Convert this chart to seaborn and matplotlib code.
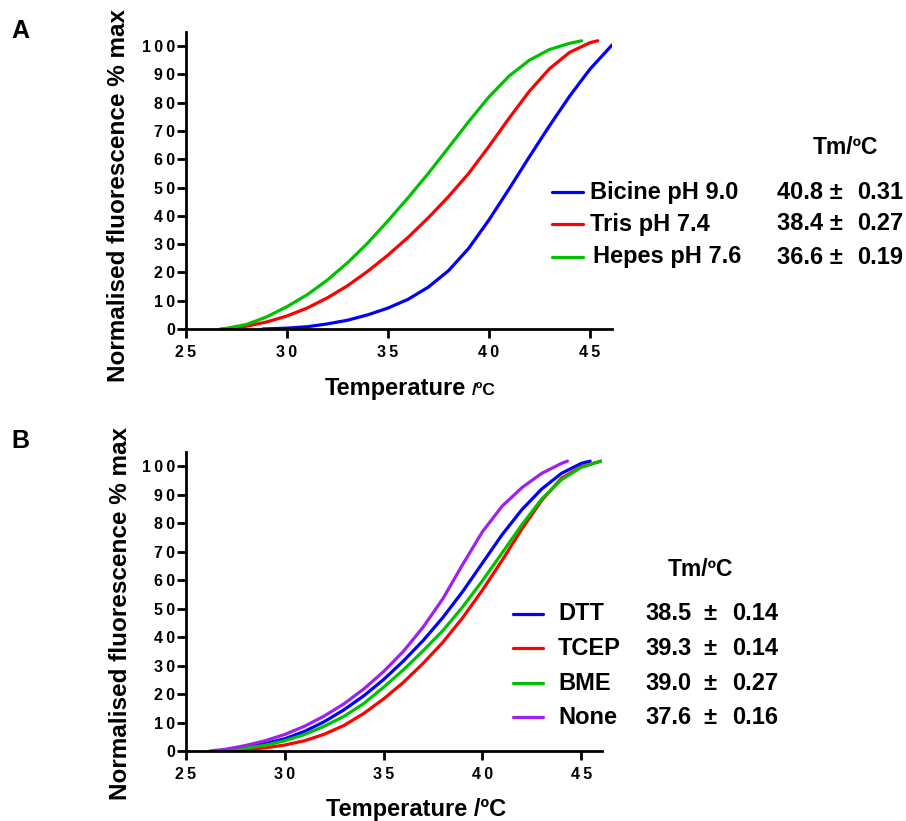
import pandas as pd
import seaborn as sns
import matplotlib.pyplot as plt
import numpy as np

# curves (temperature in C, fluorescence % max)
a_names = ["Bicine pH 9.0", "Tris pH 7.4", "Hepes pH 7.6"]
a_tm = ["40.8", "38.4", "36.6"]
a_err = ["0.31", "0.27", "0.19"]
a_colors = ["#0000FF", "#FF0000", "#00C000"]

bicine_t = [28.8, 30, 31, 32, 33, 34, 35, 36, 37, 38, 39, 40, 41, 42, 43, 44, 45, 46, 46.1]
bicine_y = [0, 0.3, 0.8, 1.8, 3.1, 5.0, 7.4, 10.5, 14.8, 20.6, 28.5, 38.5, 49.5, 60.8,
            71.8, 82.3, 91.8, 99.6, 100.4]
tris_t = [26.8, 28, 29, 30, 31, 32, 33, 34, 35, 36, 37, 38, 39, 40, 41, 42, 43, 44, 45, 45.4]
tris_y = [0, 1.0, 2.5, 4.6, 7.4, 11.0, 15.3, 20.4, 26.1, 32.4, 39.3, 46.8, 55.0, 64.5,
          74.5, 84.0, 92.0, 97.8, 101.2, 101.9]
hepes_t = [26.7, 27, 28, 29, 30, 31, 32, 33, 34, 35, 36, 37, 38, 39, 40, 41, 42, 43, 44, 44.6]
hepes_y = [0, 0.2, 1.6, 4.3, 7.9, 12.1, 17.3, 23.4, 30.4, 38.2, 46.4, 55.0, 64.1, 73.3,
           82.0, 89.4, 95.0, 98.8, 101.0, 101.9]

b_names = ["DTT", "TCEP", "BME", "None"]
b_tm = ["38.5", "39.3", "39.0", "37.6"]
b_err = ["0.14", "0.14", "0.27", "0.16"]
b_colors = ["#0000FF", "#FF0000", "#00C000", "#A020F0"]

dtt_t = [26.5, 27, 28, 29, 30, 31, 32, 33, 34, 35, 36, 37, 38, 39, 40, 41, 42, 43, 44, 45, 45.45]
dtt_y = [0, 0.4, 1.4, 2.6, 4.3, 6.9, 10.3, 14.5, 19.4, 25.1, 31.6, 38.8, 46.9, 56.0,
         66.0, 76.0, 84.8, 92.0, 97.5, 101.0, 101.8]
tcep_t = [26.8, 27, 28, 29, 30, 31, 32, 33, 34, 35, 36, 37, 38, 39, 40, 41, 42, 43, 44, 45, 46]
tcep_y = [0, 0.1, 0.5, 1.1, 2.1, 3.6, 5.9, 9.0, 13.2, 18.3, 24.1, 30.8, 38.2, 46.8,
          56.5, 67.0, 78.0, 88.0, 95.8, 99.8, 101.8]
bme_t = [26.6, 27, 28, 29, 30, 31, 32, 33, 34, 35, 36, 37, 38, 39, 40, 41, 42, 43, 44, 45, 46]
bme_y = [0, 0.2, 1.0, 2.0, 3.6, 5.8, 8.7, 12.2, 16.7, 22.4, 28.5, 35.2, 42.3, 50.6,
         59.8, 69.6, 79.5, 88.5, 95.3, 99.6, 101.8]
none_t = [26.2, 27, 28, 29, 30, 31, 32, 33, 34, 35, 36, 37, 38, 39, 40, 41, 42, 43, 44, 44.3]
none_y = [0, 0.6, 1.9, 3.6, 5.8, 8.7, 12.3, 16.6, 21.8, 27.9, 35.0, 43.5, 53.5, 65.5,
          77.0, 86.0, 92.5, 97.5, 101.0, 101.8]


def long_df(names, ts, ys):
    parts = []
    for n, t, y in zip(names, ts, ys):
        parts.append(pd.DataFrame({"temp": t, "fluor": y, "buffer": n}))
    return pd.concat(parts, ignore_index=True)


df_a = long_df(a_names, [bicine_t, tris_t, hepes_t], [bicine_y, tris_y, hepes_y])
df_b = long_df(b_names, [dtt_t, tcep_t, bme_t, none_t], [dtt_y, tcep_y, bme_y, none_y])

sns.set_style("ticks")
plt.rcParams['font.family'] = ['Liberation Sans', 'DejaVu Sans']
plt.rcParams['font.weight'] = 'bold'
plt.rcParams['text.color'] = 'black'
plt.rcParams['axes.labelcolor'] = 'black'

W, H = 906, 821
fig = plt.figure(figsize=(W / 100, H / 100), dpi=100)


def fx(px):
    return px / W


def fy(py):
    return 1 - py / H


ax_a = fig.add_axes([fx(186), fy(329), fx(612 - 186), (329 - 32) / H])
ax_b = fig.add_axes([fx(186), fy(751), fx(602 - 186), (751 - 452) / H])


def spaced(v):
    return "\u2009".join(str(v))


def style_axis(ax, xmax):
    ax.set_xlim(25, xmax)
    ax.set_ylim(0, 105)
    ax.set_xticks([25, 30, 35, 40, 45])
    ax.set_xticklabels([spaced(v) for v in [25, 30, 35, 40, 45]])
    ax.set_yticks(range(0, 101, 10))
    ax.set_yticklabels([spaced(v) for v in range(0, 101, 10)])
    for s in ["top", "right"]:
        ax.spines[s].set_visible(False)
    for s in ["left", "bottom"]:
        ax.spines[s].set_linewidth(2)
        ax.spines[s].set_color("black")
    ax.tick_params(axis="both", direction="out", length=6.5, width=2,
                   labelsize=11.5, colors="black")
    ax.tick_params(axis="x", pad=5)
    ax.tick_params(axis="y", pad=1.5)
    for lab in ax.get_xticklabels() + ax.get_yticklabels():
        lab.set_fontweight("bold")
    ax.set_xlabel("")
    ax.set_ylabel("")


sns.lineplot(data=df_a, x="temp", y="fluor", hue="buffer", palette=a_colors,
             hue_order=a_names, linewidth=2.3, ax=ax_a, legend=False, sort=False)
sns.lineplot(data=df_b, x="temp", y="fluor", hue="buffer", palette=b_colors,
             hue_order=b_names, linewidth=2.3, ax=ax_b, legend=False, sort=False)

style_axis(ax_a, 46.1)
style_axis(ax_b, 46.05)

ylab = "Normalised fluorescence % max"
fig.text(fx(119), fy(196), ylab, fontsize=17.5, fontweight="bold",
         rotation=90, ha="center", va="center")
fig.text(fx(121), fy(614), ylab, fontsize=17.5, fontweight="bold",
         rotation=90, ha="center", va="center")

fig.text(fx(325), fy(395), "Temperature", fontsize=17, fontweight="bold",
         ha="left", va="baseline")
fig.text(fx(472), fy(395), "/ºC", fontsize=12.5, fontweight="bold",
         ha="left", va="baseline")
fig.text(fx(416), fy(809), "Temperature /ºC", fontsize=17, fontweight="bold",
         ha="center", va="center")

fig.text(fx(11), fy(31), "A", fontsize=18, fontweight="bold", va="center")
fig.text(fx(11), fy(441), "B", fontsize=18, fontweight="bold", va="center")

# legend panel A
fig.text(fx(845), fy(148), "Tm/ºC", fontsize=16.5, fontweight="bold",
         ha="center", va="center")
rows_a = [192, 224, 257]
for i, name in enumerate(a_names):
    y = fy(rows_a[i])
    fig.add_artist(plt.Line2D([fx(552), fx(583)], [y, y], color=a_colors[i],
                              linewidth=2.3))
    fig.text(fx(590 if i < 2 else 593), y, name, fontsize=17, fontweight="bold",
             va="center")
    fig.text(fx(777), y, a_tm[i] + " \u00b1", fontsize=17, fontweight="bold",
             va="center")
    fig.text(fx(857), y, a_err[i], fontsize=17, fontweight="bold", va="center")

# legend panel B
fig.text(fx(700), fy(570), "Tm/ºC", fontsize=16.5, fontweight="bold",
         ha="center", va="center")
rows_b = [614, 648, 683, 717]
for i, name in enumerate(b_names):
    y = fy(rows_b[i])
    fig.add_artist(plt.Line2D([fx(513), fx(543)], [y, y], color=b_colors[i],
                              linewidth=2.3))
    fig.text(fx(558), y, name, fontsize=17, fontweight="bold", va="center")
    fig.text(fx(645), y, b_tm[i], fontsize=17, fontweight="bold", va="center")
    fig.text(fx(703), y, "\u00b1", fontsize=17, fontweight="bold", va="center")
    fig.text(fx(732), y, b_err[i], fontsize=17, fontweight="bold", va="center")

fig.savefig("out.png", dpi=100)
